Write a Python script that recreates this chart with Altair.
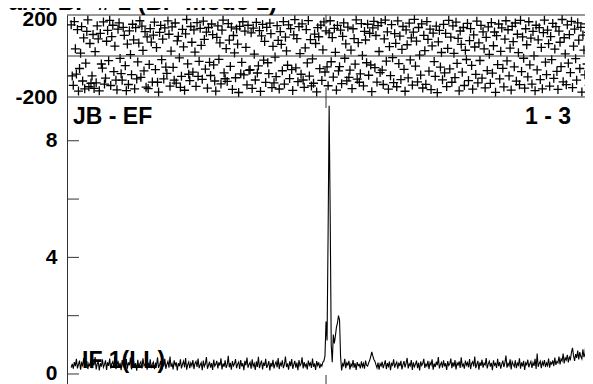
import altair as alt
import pandas as pd

# ---------------- data ----------------
START_CH = 5  # first plotted channel

amp = [
    0.22, 0.35, 0.18, 0.41, 0.27, 0.52, 0.19, 0.33, 0.46, 0.15, 0.38, 0.29, 0.55, 0.21, 0.31, 0.44, 0.17, 0.36, 0.26, 0.49,
    0.20, 0.39, 0.30, 0.58, 0.16, 0.34, 0.43, 0.12, 0.37, 0.25, 0.50, 0.23, 0.32, 0.47, 0.14, 0.40, 0.28, 0.53, 0.19, 0.35,
    0.42, 0.24, 0.60, 0.17, 0.31, 0.45, 0.21, 0.38, 0.13, 0.48, 0.27, 0.36, 0.22, 0.51, 0.18, 0.40, 0.30, 0.56, 0.16, 0.33,
    0.44, 0.26, 0.37, 0.11, 0.49, 0.23, 0.35, 0.42, 0.19, 0.54, 0.28, 0.32, 0.46, 0.15, 0.39, 0.24, 0.50, 0.20, 0.34, 0.41,
    0.17, 0.36, 0.29, 0.57, 0.21, 0.31, 0.45, 0.14, 0.38, 0.26, 0.52, 0.18, 0.33, 0.43, 0.22, 0.60, 0.25, 0.35, 0.16, 0.47,
    0.30, 0.40, 0.12, 0.37, 0.27, 0.50, 0.19, 0.34, 0.44, 0.23, 0.55, 0.15, 0.32, 0.41, 0.20, 0.38, 0.28, 0.48, 0.17, 0.36,
    0.43, 0.24, 0.53, 0.20, 0.31, 0.39, 0.13, 0.46, 0.26, 0.35, 0.58, 0.18, 0.30, 0.42, 0.22, 0.37, 0.14, 0.49, 0.27, 0.33,
    0.45, 0.19, 0.40, 0.29, 0.54, 0.16, 0.36, 0.25, 0.47, 0.21, 0.32, 0.62, 0.23, 0.38, 0.15, 0.44, 0.28, 0.35, 0.51, 0.20,
    0.34, 0.41, 0.17, 0.48, 0.26, 0.37, 0.13, 0.45, 0.30, 0.56, 0.22, 0.33, 0.40, 0.18, 0.50, 0.27, 0.36, 0.14, 0.43, 0.24,
    0.59, 0.20, 0.35, 0.46, 0.16, 0.39, 0.28, 0.52, 0.21, 0.31, 0.44, 0.12, 0.38, 0.25, 0.49, 0.19, 0.34, 0.42, 0.23, 0.55,
    0.17, 0.37, 0.29, 0.47, 0.20, 0.33, 0.60, 0.24, 0.36, 0.15, 0.43, 0.27, 0.51, 0.18, 0.32, 0.45, 0.22, 0.39, 0.13, 0.48,
    0.28, 0.35, 0.57, 0.19, 0.41, 0.26, 0.34, 0.16, 0.46, 0.30, 0.38, 0.21, 0.53, 0.25, 0.36, 0.14, 0.44, 0.29, 0.40, 0.20,
    0.33, 0.27, 0.41, 0.45, 0.62, 1.80, 1.15, 4.80, 9.20, 5.50, 1.00, 0.40, 1.35, 1.05, 1.30, 1.60, 1.75, 2.00, 1.85, 0.60,
    0.12, 0.35, 0.28, 0.52, 0.20, 0.38, 0.31, 0.45, 0.16, 0.34, 0.26, 0.48, 0.22, 0.37, 0.14, 0.41, 0.29, 0.33, 0.19, 0.43,
    0.25, 0.36, 0.18, 0.46, 0.30, 0.27, 0.38, 0.47, 0.60, 0.76, 0.62, 0.50, 0.44, 0.32, 0.21, 0.39, 0.15, 0.35, 0.28, 0.42,
    0.20, 0.33, 0.47, 0.17, 0.37, 0.26, 0.43, 0.13, 0.36, 0.30, 0.50, 0.22, 0.34, 0.41, 0.18, 0.39, 0.27, 0.45, 0.16, 0.32,
    0.44, 0.23, 0.37, 0.55, 0.19, 0.35, 0.28, 0.48, 0.14, 0.40, 0.25, 0.33, 0.46, 0.20, 0.38, 0.12, 0.43, 0.29, 0.36, 0.52,
    0.21, 0.34, 0.27, 0.45, 0.17, 0.39, 0.31, 0.50, 0.15, 0.36, 0.24, 0.42, 0.30, 0.58, 0.19, 0.33, 0.40, 0.22, 0.47, 0.26,
    0.37, 0.14, 0.44, 0.29, 0.35, 0.53, 0.20, 0.40, 0.25, 0.48, 0.16, 0.38, 0.31, 0.43, 0.21, 0.57, 0.27, 0.34, 0.18, 0.46,
    0.30, 0.39, 0.23, 0.51, 0.17, 0.36, 0.42, 0.26, 0.60, 0.20, 0.33, 0.45, 0.15, 0.40, 0.28, 0.49, 0.22, 0.37, 0.31, 0.55,
    0.19, 0.35, 0.44, 0.25, 0.38, 0.13, 0.47, 0.30, 0.36, 0.21, 0.52, 0.27, 0.41, 0.18, 0.34, 0.46, 0.24, 0.39, 0.63, 0.22,
    0.36, 0.28, 0.50, 0.16, 0.42, 0.33, 0.25, 0.47, 0.20, 0.37, 0.30, 0.54, 0.18, 0.40, 0.26, 0.45, 0.14, 0.38, 0.32, 0.49,
    0.23, 0.35, 0.43, 0.21, 0.39, 0.28, 0.52, 0.17, 0.70, 0.25, 0.36, 0.44, 0.20, 0.41, 0.31, 0.48, 0.24, 0.38, 0.29, 0.53,
    0.22, 0.40, 0.34, 0.47, 0.27, 0.56, 0.31, 0.43, 0.38, 0.60, 0.33, 0.52, 0.45, 0.70, 0.36, 0.55, 0.48, 0.66, 0.40, 0.58,
    0.50, 0.74, 0.90, 0.62, 0.45, 0.68, 0.55, 0.80, 0.50, 0.75, 0.60, 0.52, 0.85, 0.58, 0.70, 1.12, 0.62, 0.78, 0.55, 0.72,
    0.60, 0.88, 0.65, 0.58, 0.70, 0.62, 0.75, 0.66,
]

phase = [
    152, -97, -143, 168, 35, -88, 129, -171, -61, 14, 143, -122, 88, -160, -35, 120, 176, -150, 61, -133,
    -97, 105, -158, 21, -131, 147, 84, -170, 110, -39, -59, 166, -137, -108, 72, 125, -23, 174, -144, 95,
    150, -76, 48, -118, -165, 131, 162, -12, -86, -118, 140, 101, -47, -169, 58, -139, 123, 7, -91, 155,
    79, -160, 138, -112, -29, 63, 172, -104, 146, 27, -73, 119, -152, 93, -159, -41, 134, 68, -127, 102,
    165, -66, 41, -128, -176, 115, 149, -18, 82, -112, 137, -54, -85, 171, 106, -147, 24, 142, -55, -118,
    161, -132, 74, 96, -9, -153, -99, 130, 45, -167, 108, 178, -38, -89, -120, 144, 67, -79, 127, 19,
    -148, 163, -99, -26, 135, 52, -114, 170, 81, -64, 116, -157, 139, -31, -95, 156, 104, -43, -122, -171,
    91, 147, -16, 64, -136, 126, 175, -82, -111, 36, -124, 158, 77, -51, 141, -163, 100, 15, -106, 132,
    58, -178, 145, -87, -31, 167, -92, 121, 42, -141, 150, -70, -67, 113, -158, 136, 9, -117, 164, -83,
    -48, 124, -173, 98, 154, -20, 71, -129, 140, -33, -86, 160, 109, -154, 47, -131, -5, -101, 148, 76,
    -161, 119, 57, -72, 168, -137, 92, 25, -45, 152, -110, 134, -66, -168, 103, 177, -58, 85, -125, 143,
    12, -89, 157, -117, -153, 40, 129, -34, 173, -98, 80, -146, -14, -133, 107, 61, -175, 138, 94, -62,
    151, -119, 30, 166, -78, 123, -53, -145, 113, 172, -28, 90, -103, 135, 18, -166, 149, -73, -52, 126,
    -135, 96, 162, -11, 59, -121, 141, -104, -69, 29, -159, 133, 85, -40, 176, -113, 65, -128, -87, 158,
    3, -146, 120, 78, -33, 155, -94, 111, -44, -174, 137, 169, -57, 100, -127, 148, 22, -81, 163, -69,
    -139, 84, 175, -25, 118, -162, 46, -96, 153, -8, -130, 109, 62, -150, 171, -37, 97, -115, 32, 144,
    -65, -172, 127, 55, -107, 160, -19, 88, -142, 116, 179, -49, 73, -126, 139, 4, -93, 157, -156, 101,
    26, -138, 168, 81, -74, 131, -164, 49, 112, -27, -99, 146, -179, 69, 125, -54, 17, -116, 154, -82,
    110, -149, 37, 174, -63, 92, -128, 147, 13, -105, 165, -36, 86, -170, 122, 57, -79, 139, -144, 28,
    -17, 159, -120, 75, 134, -46, -162, 103, 44, -90, 170, -131, 64, -22, 149, -108, 118, 35, -155, 91,
    -71, 142, 8, -134, 163, -84, 50, 117, -177, 99, -42, 156, -112, 23, 137, -60, -151, 82, 172, -24,
    128, -97, 38, -166, 145, 70, -53, 161, -123, 106, 16, -140, 174, -76, 93, -11, -157, 133, 55, -102,
    167, -43, 87, -137, 120, 1, -169, 150, -68, 79, 138, -115, 42, -160, 114, 175, -30, -91, 126, 60,
    -147, 95, -18, 159, -109, 34, 143, -75, -163, 121, 67, -52, 178, -126, 89, 10, -140, 152, -35, 104,
    -81, 169, -154, 48, 131, -13, -118, 162, 77, -61, 140, -176, 102, 29, -92, 157, -39, 115, -143, 71,
    136, -104, 20, 165, -57, 94, -148, 124,
]

amp_ticks = [0, 2, 4, 6, 8]
amp_label_step = 4
phase_labels = [-200, 200]
phase_lines = [200, 0, -200]
x_ticks = [250, 500]

title_text = "Calibrated with CL # 0 and BP # 1 (BP mode 1)"
baseline_text = "JB - EF"
antenna_text = "1 - 3"
if_text = "IF 1(LL)"

# ---------------- layout ----------------
W, H = 526, 369
X_DOM = [0.96, 506.7]
AMP_DOM = [-0.343, 12.313]
PH_DOM = [-1600, 200]
FONT = "Liberation Sans"
INK = "#333333"

amp_df = pd.DataFrame({"ch": list(range(START_CH, START_CH + len(amp))), "amp": amp})
ph_df = pd.DataFrame({"ch": list(range(START_CH, START_CH + len(phase))), "ph": phase})
amp_tick_df = pd.DataFrame({"t": amp_ticks})
ph_line_df = pd.DataFrame({"v": phase_lines})
xt_df = pd.DataFrame({"ch": x_ticks})

x_scale = alt.Scale(domain=X_DOM, nice=False, zero=False)
amp_scale = alt.Scale(domain=AMP_DOM, nice=False, zero=False)
ph_scale = alt.Scale(domain=PH_DOM, nice=False, zero=False)
X = alt.X("ch:Q", scale=x_scale, axis=None)

label_style = dict(labelFont=FONT, labelFontSize=21, labelFontWeight="bold",
                   labelColor="black", labelPadding=10, ticks=False, tickSize=0,
                   grid=False, title=None)

phase_pts = alt.Chart(ph_df).mark_point(
    shape="M-1,0L1,0M0,-1L0,1", size=81, filled=False, strokeWidth=1.3,
    color="#000000", opacity=1, clip=True
).encode(
    x=X,
    y=alt.Y("ph:Q", scale=ph_scale, axis=alt.Axis(
        orient="left", values=phase_labels, domain=True, domainColor=INK,
        labelExpr="datum.value < 0 ? '-' + abs(datum.value) : datum.label",
        labelOffset={"condition": {"test": "datum.value == 200", "value": 4}, "value": 0},
        **label_style)),
)

phase_rules = alt.Chart(ph_line_df).mark_rule(color=INK, strokeWidth=1).encode(
    y=alt.Y("v:Q", scale=ph_scale, axis=None)
)

amp_line = alt.Chart(amp_df).mark_line(color="black", strokeWidth=1.1, clip=True).encode(
    x=X,
    y=alt.Y("amp:Q", scale=amp_scale, axis=alt.Axis(
        orient="left", values=amp_ticks, domain=False,
        labelExpr=f"datum.value % {amp_label_step} === 0 ? datum.label : ''",
        **label_style)),
)

amp_ticks_left = alt.Chart(amp_tick_df).mark_rule(color=INK).encode(
    y=alt.Y("t:Q", scale=amp_scale, axis=None), x=alt.value(0), x2=alt.value(12)
)
amp_ticks_right = alt.Chart(amp_tick_df).mark_rule(color=INK).encode(
    y=alt.Y("t:Q", scale=amp_scale, axis=None), x=alt.value(W - 7), x2=alt.value(W)
)

def xtick(y0, y1):
    return alt.Chart(xt_df).mark_rule(color=INK).encode(x=X, y=alt.value(y0), y2=alt.value(y1))

x_tick_layers = [xtick(0, 9), xtick(73, 82), xtick(82, 93), xtick(360, H)]

def label(text, x, y, align, size):
    return alt.Chart(pd.DataFrame({"t": [text]})).mark_text(
        font=FONT, fontSize=size, fontWeight="bold", color="black",
        align=align, baseline="alphabetic"
    ).encode(text="t:N", x=alt.value(x), y=alt.value(y))

texts = [
    label(title_text, 210, -5, "right", 24),
    label(baseline_text, 6, 109, "left", 23),
    label(antenna_text, 504, 109, "right", 23),
    label(if_text, 15, 353, "left", 23),
]

# negative right padding keeps the page width (with its 8px margins) inside the window
chart = alt.layer(
    phase_pts, phase_rules, amp_line, amp_ticks_left, amp_ticks_right,
    *x_tick_layers, *texts
).resolve_scale(y="independent").properties(
    width=W, height=H,
    autosize=alt.AutoSizeParams(type="none"),
    padding={"left": 59, "top": 7, "right": -8, "bottom": 0},
    background="white",
).configure_view(stroke=None)

chart.save("out.html", embed_options={"renderer": "svg", "actions": False})
